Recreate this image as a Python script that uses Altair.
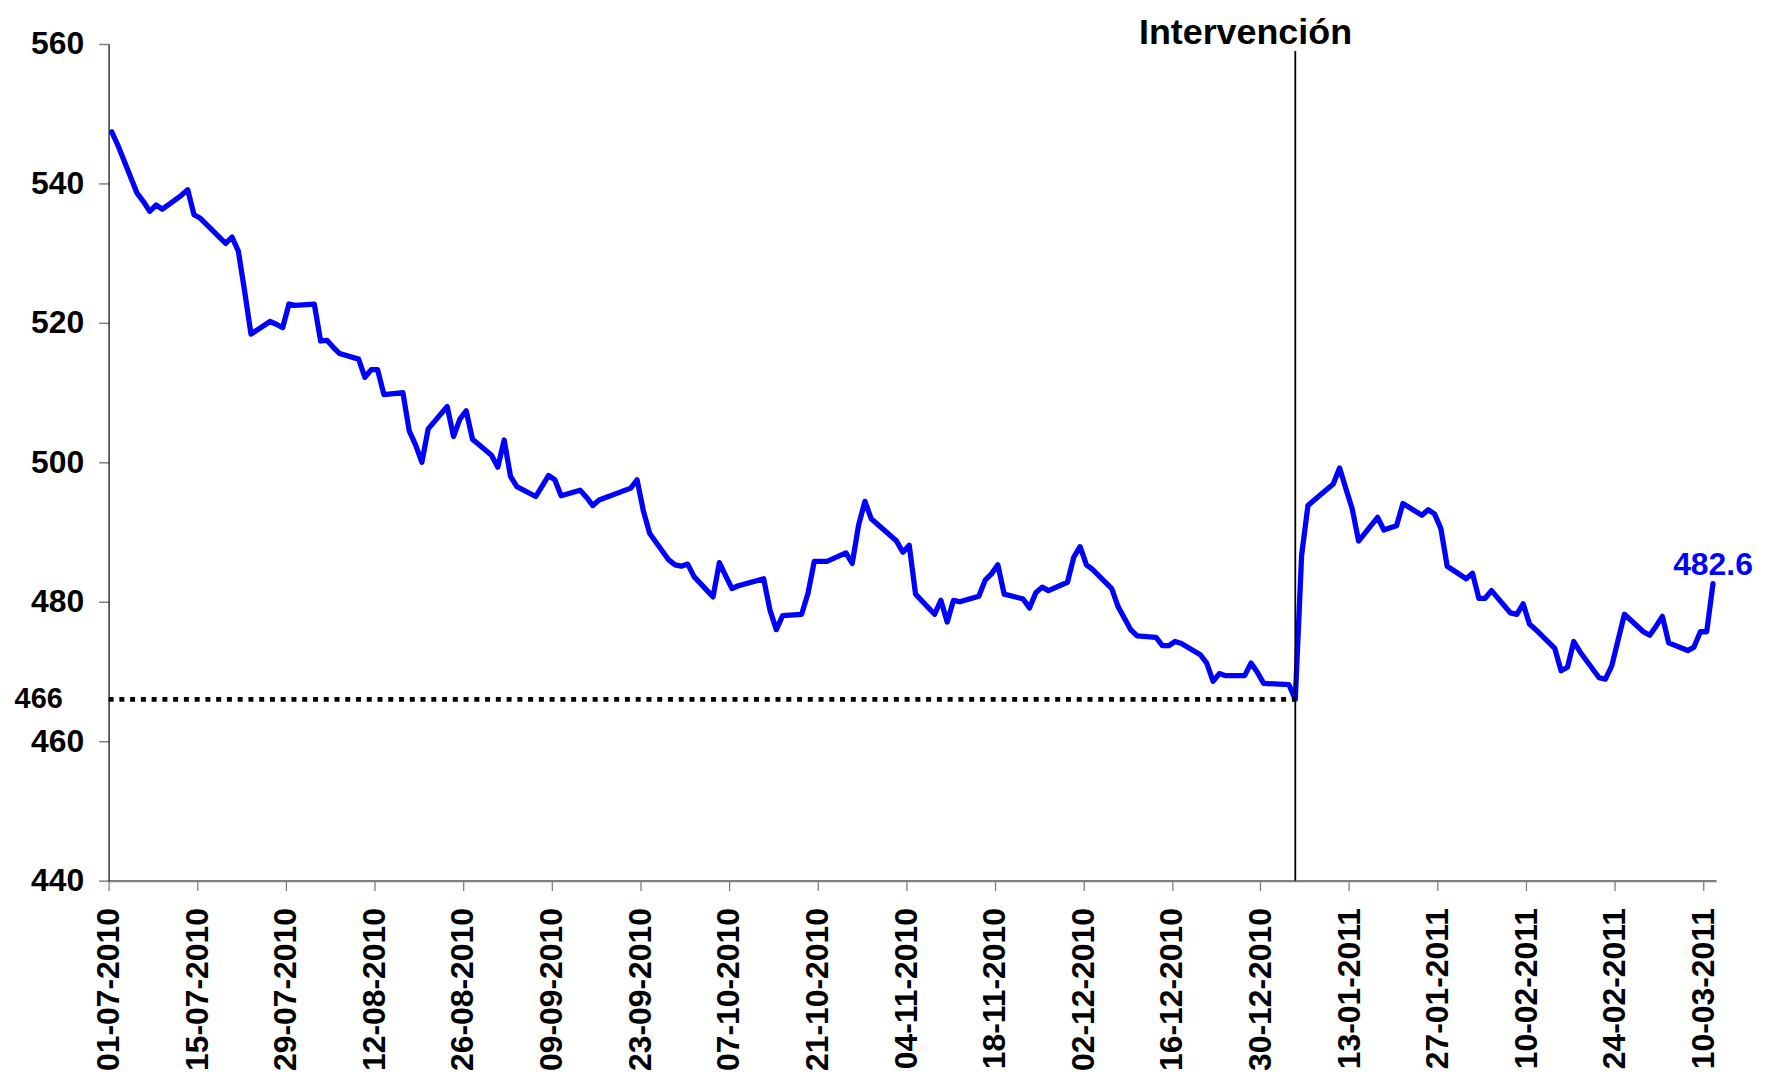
import altair as alt
import pandas as pd

# ---- data (CLP per USD, daily) ----
dates = [
    "2010-07-01", "2010-07-02", "2010-07-05", "2010-07-06", "2010-07-07", "2010-07-08", "2010-07-09",
    "2010-07-12", "2010-07-13", "2010-07-14", "2010-07-15", "2010-07-19", "2010-07-20", "2010-07-21",
    "2010-07-22", "2010-07-23", "2010-07-26", "2010-07-27", "2010-07-28", "2010-07-29", "2010-07-30",
    "2010-08-02", "2010-08-03", "2010-08-04", "2010-08-05", "2010-08-06", "2010-08-09", "2010-08-10",
    "2010-08-11", "2010-08-12", "2010-08-13", "2010-08-16", "2010-08-17", "2010-08-18", "2010-08-19",
    "2010-08-20", "2010-08-23", "2010-08-24", "2010-08-25", "2010-08-26", "2010-08-27", "2010-08-30",
    "2010-08-31", "2010-09-01", "2010-09-02", "2010-09-03", "2010-09-06", "2010-09-07", "2010-09-08",
    "2010-09-09", "2010-09-10", "2010-09-13", "2010-09-14", "2010-09-15", "2010-09-16", "2010-09-21",
    "2010-09-22", "2010-09-23", "2010-09-24", "2010-09-27", "2010-09-28", "2010-09-29", "2010-09-30",
    "2010-10-01", "2010-10-04", "2010-10-05", "2010-10-06", "2010-10-07", "2010-10-08", "2010-10-12",
    "2010-10-13", "2010-10-14", "2010-10-15", "2010-10-18", "2010-10-19", "2010-10-20", "2010-10-21",
    "2010-10-22", "2010-10-25", "2010-10-26", "2010-10-27", "2010-10-28", "2010-10-29", "2010-11-02",
    "2010-11-03", "2010-11-04", "2010-11-05", "2010-11-08", "2010-11-09", "2010-11-10", "2010-11-11",
    "2010-11-12", "2010-11-15", "2010-11-16", "2010-11-17", "2010-11-18", "2010-11-19", "2010-11-22",
    "2010-11-23", "2010-11-24", "2010-11-25", "2010-11-26", "2010-11-29", "2010-11-30", "2010-12-01",
    "2010-12-02", "2010-12-03", "2010-12-06", "2010-12-07", "2010-12-09", "2010-12-10", "2010-12-13",
    "2010-12-14", "2010-12-15", "2010-12-16", "2010-12-17", "2010-12-20", "2010-12-21", "2010-12-22",
    "2010-12-23", "2010-12-24", "2010-12-27", "2010-12-28", "2010-12-29", "2010-12-30", "2011-01-03",
    "2011-01-04", "2011-01-05", "2011-01-06", "2011-01-07", "2011-01-10", "2011-01-11", "2011-01-12",
    "2011-01-13", "2011-01-14", "2011-01-17", "2011-01-18", "2011-01-19", "2011-01-20", "2011-01-21",
    "2011-01-24", "2011-01-25", "2011-01-26", "2011-01-27", "2011-01-28", "2011-01-31", "2011-02-01",
    "2011-02-02", "2011-02-03", "2011-02-04", "2011-02-07", "2011-02-08", "2011-02-09", "2011-02-10",
    "2011-02-11", "2011-02-14", "2011-02-15", "2011-02-16", "2011-02-17", "2011-02-18", "2011-02-21",
    "2011-02-22", "2011-02-23", "2011-02-24", "2011-02-25", "2011-02-28", "2011-03-01", "2011-03-02",
    "2011-03-03", "2011-03-04", "2011-03-07", "2011-03-08", "2011-03-09", "2011-03-10", "2011-03-11",
]
values = [
    547.4, 545.4, 538.6, 537.4, 536.0, 536.9, 536.3,
    538.3, 539.1, 535.5, 535.0, 531.4, 532.3, 530.3,
    524.5, 518.4, 520.2, 519.8, 519.3, 522.7, 522.5,
    522.7, 517.4, 517.5, 516.5, 515.6, 514.8, 512.2,
    513.3, 513.3, 509.7, 510.0, 504.5, 502.5, 500.0,
    504.8, 508.0, 503.7, 506.2, 507.4, 503.3, 501.0,
    499.3, 503.2, 498.0, 496.5, 495.1, 496.6, 498.1,
    497.5, 495.2, 496.0, 495.0, 493.8, 494.6, 496.3,
    497.5, 493.0, 489.8, 486.0, 485.3, 485.1, 485.4,
    483.6, 480.7, 485.6, 483.7, 481.9, 482.3, 483.3,
    478.8, 476.0, 478.0, 478.2, 481.2, 485.8, 485.8,
    485.8, 487.0, 485.5, 491.0, 494.4, 491.9, 488.7,
    487.1, 488.1, 481.1, 478.2, 480.2, 477.1, 480.2,
    480.0, 480.8, 483.1, 484.0, 485.3, 481.1, 480.4,
    479.1, 481.3, 482.1, 481.6, 482.8, 486.4, 487.9,
    485.3, 484.6, 481.9, 479.3, 476.0, 475.1, 474.9,
    473.7, 473.7, 474.3, 474.0, 472.4, 471.2, 468.6,
    469.7, 469.4, 469.4, 471.2, 469.9, 468.3, 468.1,
    466.0, 486.7, 493.8, 494.6, 496.9, 499.2, 496.2,
    493.3, 488.7, 492.1, 490.3, 490.6, 490.9, 494.1,
    492.4, 493.2, 492.6, 490.5, 485.1, 483.3, 484.1,
    480.5, 480.5, 481.6, 478.4, 478.2, 479.7, 476.8,
    476.0, 473.3, 470.1, 470.6, 474.3, 472.8, 469.1,
    468.9, 470.8, 474.5, 478.2, 475.7, 475.2, 476.5,
    477.9, 474.1, 473.0, 473.5, 475.7, 475.7, 482.6,
]
tick_labels = [
    "01-07-2010", "15-07-2010", "29-07-2010", "12-08-2010", "26-08-2010", "09-09-2010",
    "23-09-2010", "07-10-2010", "21-10-2010", "04-11-2010", "18-11-2010", "02-12-2010",
    "16-12-2010", "30-12-2010", "13-01-2011", "27-01-2011", "10-02-2011", "24-02-2011",
    "10-03-2011",
]
y_ticks = [440, 460, 480, 500, 520, 540, 560]
y_min, y_max = 440, 560
axis_start = "2010-07-01"
axis_end = "2011-03-12"
intervention_date = "2011-01-04"
intervention_text = "Intervención"
vline_top = 559
floor_level = 466
floor_label = "466"


def ms(ts):
    return int(pd.Timestamp(ts).value // 10**6)


tick_values = [ms(pd.to_datetime(t, format="%d-%m-%Y")) for t in tick_labels]

HALF_DAY = "43200000"

x_scale = alt.Scale(type="utc", domain=[ms(axis_start), ms(axis_end)])
y_scale = alt.Scale(domain=[y_min, y_max], nice=False, zero=False)

x_axis = alt.Axis(
    values=tick_values,
    labelExpr="utcFormat(datum.value, '%d-%m-%Y')",
    labelAngle=-90,
    labelFont="Liberation Sans",
    labelFontSize=32,
    labelFontWeight="bold",
    labelColor="black",
    labelPadding=17,
    labelFlush=False,
    labelOverlap=False,
    labelBound=False,
    tickSize=10,
    tickColor="#7f7f7f",
    tickWidth=1.3,
    domainColor="#808080",
    domainWidth=2.3,
    grid=False,
    title=None,
)
y_axis = alt.Axis(
    values=y_ticks,
    labelFont="Liberation Sans",
    labelFontSize=32,
    labelFontWeight="bold",
    labelColor="black",
    labelPadding=15,
    tickSize=10,
    tickColor="#808080",
    tickWidth=1.5,
    domainColor="black",
    domainWidth=1.2,
    grid=False,
    title=None,
)


def X(field):
    return alt.X(field, type="temporal", scale=x_scale, axis=x_axis)


def Y(field):
    return alt.Y(field, type="quantitative", scale=y_scale, axis=y_axis)


series = pd.DataFrame({"date": dates, "value": values})

line = (
    alt.Chart(series)
    .transform_calculate(t="toNumber(toDate(datum.date)) + " + HALF_DAY)
    .mark_line(color="#0000FF", strokeWidth=5.3, strokeJoin="round", strokeCap="round")
    .encode(x=X("t"), y=Y("value"))
)

floor_df = pd.DataFrame({"start": [axis_start], "end": [intervention_date], "level": [floor_level]})
floor_rule = (
    alt.Chart(floor_df)
    .transform_calculate(
        t0="toNumber(toDate(datum.start))",
        t1="toNumber(toDate(datum.end)) + " + HALF_DAY,
    )
    .mark_rule(color="black", strokeWidth=5, strokeDash=[5, 5.8], strokeCap="butt")
    .encode(x=X("t0"), x2="t1:T", y=Y("level"))
)

vline_df = pd.DataFrame({"date": [intervention_date], "top": [vline_top], "bottom": [y_min]})
vline = (
    alt.Chart(vline_df)
    .transform_calculate(t="toNumber(toDate(datum.date)) + " + HALF_DAY)
    .mark_rule(color="black", strokeWidth=1.8)
    .encode(x=X("t"), y=Y("top"), y2="bottom:Q")
)

floor_text_df = pd.DataFrame({"level": [floor_level], "label": [floor_label]})
floor_text = (
    alt.Chart(floor_text_df)
    .mark_text(align="right", baseline="middle", font="Liberation Sans", fontSize=29,
               fontWeight="bold", color="black")
    .encode(x=alt.value(-46), y=Y("level"), text="label:N")
)

interv_df = pd.DataFrame({"date": [intervention_date], "label": [intervention_text]})
interv_text = (
    alt.Chart(interv_df)
    .transform_calculate(t="toNumber(toDate(datum.date)) + " + HALF_DAY)
    .mark_text(align="center", baseline="alphabetic", dx=-50, font="Liberation Sans", fontSize=36,
               fontWeight="bold", color="black")
    .encode(x=X("t"), y=alt.value(0), text="label:N")
)

last_df = pd.DataFrame({"date": [dates[-1]], "value": [values[-1]], "label": [f"{values[-1]:.1f}"]})
last_text = (
    alt.Chart(last_df)
    .transform_calculate(t="toNumber(toDate(datum.date)) + " + HALF_DAY)
    .mark_text(align="center", baseline="alphabetic", dy=-9, font="Liberation Sans", fontSize=32,
               fontWeight="bold", color="#0000FF")
    .encode(x=X("t"), y=Y("value"), text="label:N")
)

chart = (
    alt.layer(line, floor_rule, vline, floor_text, interv_text, last_text)
    .properties(
        width=1614,
        height=840,
        autosize=alt.AutoSizeParams(type="none"),
        padding={"left": 101, "top": 34, "right": 45, "bottom": 193},
        background="white",
    )
    .configure_view(stroke=None)
)

chart.save("out.html", embed_options={"renderer": "svg", "actions": False})
